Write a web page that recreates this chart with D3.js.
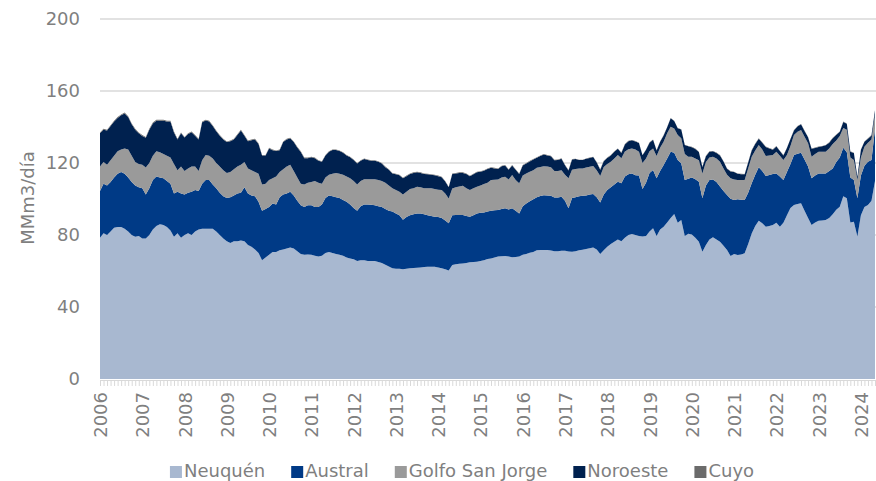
<!DOCTYPE html>
<html>
<head>
<meta charset="utf-8">
<script src="https://cdn.jsdelivr.net/npm/d3@7"></script>
<style>
body{margin:0;background:#fff;}
text{font-family:"DejaVu Sans",Verdana,sans-serif;}
</style>
</head>
<body>
<div id="chart"></div>
<script>
// Monthly production, MMm3/día, Jan 2006 - May 2024 (one row per year)
const neuquen = [
78.5,81,80,82,84,84.5,84.5,83.5,82,80,79,79.5,
78,78,80,83,85,86,85.5,84.5,82.5,79,81,78.5,
80,81,80,82,83,83.5,83.5,83.5,83.5,82,80,78,
76.5,75.5,76.5,76.5,77,76.5,74.5,73.5,72,70,66,67.5,
69,70.5,70.5,71.5,72,72.5,73,72.5,71,69.5,69,69.2,
69,68.5,68,68.5,70,70.5,70,69.5,69,68.5,67.5,67,
66.5,65.5,66,66,65.5,65.5,65.5,65,64.5,63.5,62.5,61.5,
61.3,61.2,61,61.3,61.5,61.7,61.8,62,62.2,62.4,62.4,62.4,
62,61.5,61,60.3,63.3,63.7,64,64.2,64.5,64.8,65,65.2,
65.5,66,66.7,67,67.5,68,68.2,68.3,68,67.6,67.8,68,
69,69.5,70.2,70.5,71.5,71.7,71.7,71.6,71.4,71,71,71.3,
71.2,70.8,70.7,71,71.5,71.8,72.2,72.7,73,72,69.4,71.5,
73.5,75,76.3,77.5,76.5,78.5,80,80.5,80,79.4,79.1,79.4,
82,83.7,79.4,83,84.6,87,89.5,91.7,86.8,88.3,79.4,80.7,
80.3,78.5,76.3,70.7,74.5,77.5,78.7,77.5,76.3,74,71.7,68.3,
69.4,68.9,69.2,69.8,75,80.9,85,87.9,86.5,84.6,85,85.5,
86.8,84.6,86.8,91,95,96.7,97.2,97.6,93.5,89.5,85.5,87,
87.9,88,88.3,89.5,91.5,94,95.7,101.5,100.4,87,87.4,79.1,
91,95.5,96.7,99,110
];

const austral = [
26.0,27.5,27.5,27.5,28.0,29.5,30.5,30.5,30.0,29.5,28.5,27.0,
28.0,24.5,26.0,27.5,27.5,26.0,26.0,25.5,26.0,24.0,23.0,24.5,
22.5,22.5,24.0,23.0,21.5,25.0,27.0,27.0,24.5,24.0,23.5,23.5,
24.0,25.5,25.5,26.5,26.5,30.0,28.5,28.5,29.5,28.5,27.5,27.0,
26.5,27.0,26.5,29.5,30.5,30.5,31.0,29.5,28.0,27.0,26.5,27.3,
27.5,27.0,27.5,28.5,30.5,31.5,31.5,31.5,31.5,31.0,31.0,30.0,
28.5,28.0,30.0,31.0,31.5,31.3,31.0,31.0,31.0,31.0,31.0,31.5,
30.7,29.8,27.5,28.7,29.5,29.8,30.2,30.0,29.3,28.6,28.1,27.8,
28.0,28.0,27.0,26.2,27.7,27.4,27.1,26.9,26.0,25.4,26.0,26.8,
26.8,26.5,26.3,26.5,26.2,25.9,26.3,26.5,26.2,27.2,25.7,24.0,
27.0,28.0,28.5,29.3,29.5,29.9,30.4,30.4,30.4,29.8,29.8,29.9,
27.8,24.0,29.8,30.0,30.0,30.0,29.8,29.8,29.8,29.0,28.6,31.0,
31.5,31.5,31.7,32.1,32.2,34.0,33.8,33.7,33.2,33.6,26.4,29.6,
32.5,32.4,32.1,32.5,34.3,35.5,36.8,34.0,34.9,31.5,31.1,30.6,
31.7,32.5,33.3,29.7,33.0,33.0,32.2,32.0,30.7,30.5,30.5,31.9,
30.0,30.9,30.4,29.6,28.5,27.8,28.5,29.7,29.0,28.2,28.4,28.4,
27.4,27.9,23.7,24.0,24.5,27.7,28.0,28.1,28.5,28.5,26.0,26.0,
26.3,26.2,25.9,26.0,25.5,26.5,27.3,27.0,25.6,25.0,23.1,21.3,
22.0,23.0,24.0,22.7,29.0
];

const golfo = [
13.5,12.0,11.5,12.0,12.0,12.5,12.5,14.0,15.5,14.5,13.0,13.0,
13.0,15.0,14.0,13.5,14.0,14.0,13.5,14.0,14.5,16.5,12.0,15.0,
13.0,13.5,14.0,13.0,11.0,13.0,14.0,13.5,14.5,14.0,14.5,14.5,
14.0,14.0,14.5,15.0,15.5,14.0,14.0,14.0,13.5,15.5,14.5,14.0,
15.0,14.0,15.5,14.0,14.0,15.0,15.0,13.5,13.0,12.0,12.5,12.5,
13.0,14.5,13.5,11.5,11.5,11.5,12.5,13.5,13.5,14.0,14.0,14.5,
15.0,14.5,14.0,14.0,14.0,14.2,14.5,14.5,14.5,14.5,14.0,13.0,
13.0,13.0,14.0,14.0,14.5,14.5,14.8,14.5,14.5,15.0,15.5,15.3,
15.2,15.5,15.0,13.8,14.8,15.4,15.9,16.3,15.5,14.8,15.0,14.8,
15.2,15.8,16.0,17.0,17.0,17.0,17.5,17.6,16.7,18.5,17.0,16.7,
17.0,16.7,16.5,16.2,16.3,16.2,16.1,16.0,15.9,14.8,14.7,14.8,
14.5,16.7,15.8,15.6,15.4,15.2,15.5,15.4,15.5,15.0,14.8,15.3,
14.5,14.2,14.5,14.8,13.9,13.9,13.9,13.9,14.3,13.3,14.5,13.5,
12.0,12.0,12.4,13.0,12.9,14.0,13.9,13.5,13.8,13.9,14.5,12.2,
11.5,11.5,11.9,13.8,13.0,12.5,12.6,13.0,13.7,12.5,11.3,11.3,
11.5,10.7,10.9,11.1,13.5,14.8,13.5,12.4,12.0,11.1,10.8,10.5,
12.1,11.5,11.2,9.5,10.0,11.1,12.1,12.6,12.6,13.0,12.0,12.0,
12.1,12.1,12.1,12.5,13.5,12.0,12.0,11.0,12.5,11.0,11.2,10.1,
10.0,10.5,10.6,11.3,8.0
];

const noroeste = [
18.5,18.0,19.0,19.0,19.0,18.5,19.0,19.5,18.0,17.5,18.0,17.0,
16.0,16.5,18.5,18.0,17.0,17.5,18.5,19.0,20.0,17.5,17.0,18.5,
18.6,19.1,19.1,17.1,17.6,21.1,19.1,19.1,18.1,17.6,17.1,17.1,
17.1,17.1,16.6,17.6,19.1,14.6,15.1,16.6,18.1,16.6,16.1,15.6,
17.6,15.6,14.1,12.1,15.1,15.1,14.6,16.1,16.6,17.6,14.6,13.6,
13.7,12.7,12.2,12.2,12.2,12.7,13.2,12.7,12.7,12.2,11.7,11.7,
11.7,11.7,11.2,11.2,10.7,10.2,10.2,10.2,9.7,8.7,8.7,8.2,
8.7,9.2,9.0,8.7,8.4,8.5,8.1,8.0,7.9,7.7,7.5,7.7,
7.5,7.1,6.7,6.2,8.1,7.7,7.5,7.1,7.9,7.6,7.7,8.1,
7.6,7.4,7.7,6.8,6.3,5.8,6.2,6.2,5.3,5.3,5.7,5.2,
5.6,5.5,5.7,5.9,5.6,6.1,6.5,6.2,6.0,5.9,6.2,6.3,
5.3,4.4,5.7,5.6,4.7,4.6,4.8,4.9,5.0,4.3,3.5,3.2,
3.3,3.5,3.8,3.5,3.0,3.9,4.4,4.5,4.5,4.8,4.3,4.8,
4.8,4.8,3.1,3.3,3.5,3.3,4.6,4.1,3.8,4.9,5.0,5.8,
5.3,5.3,4.6,3.6,3.3,3.3,3.0,3.1,3.5,3.8,3.3,3.8,
4.1,3.5,3.3,3.2,3.3,3.5,3.6,3.5,3.8,5.0,3.9,3.0,
2.9,2.6,2.5,3.8,3.8,2.6,3.0,3.2,3.2,3.3,4.4,3.4,
2.6,3.0,3.5,3.3,3.3,3.1,2.3,3.3,3.3,3.3,3.8,1.7,
4.3,2.8,2.2,2.3,2.2
];

const cuyo = [
0.5,0.5,0.5,0.5,0.5,0.5,0.5,0.5,0.5,0.5,0.5,0.5,
0.5,0.5,0.5,0.5,0.5,0.5,0.5,0.5,0.5,0.5,0.5,0.5,
0.4,0.4,0.4,0.4,0.4,0.4,0.4,0.4,0.4,0.4,0.4,0.4,
0.4,0.4,0.4,0.4,0.4,0.4,0.4,0.4,0.4,0.4,0.4,0.4,
0.4,0.4,0.4,0.4,0.4,0.4,0.4,0.4,0.4,0.4,0.4,0.4,
0.3,0.3,0.3,0.3,0.3,0.3,0.3,0.3,0.3,0.3,0.3,0.3,
0.3,0.3,0.3,0.3,0.3,0.3,0.3,0.3,0.3,0.3,0.3,0.3,
0.3,0.3,0.3,0.3,0.3,0.3,0.3,0.3,0.3,0.3,0.3,0.3,
0.3,0.3,0.3,0.3,0.3,0.3,0.3,0.3,0.3,0.3,0.3,0.3,
0.3,0.3,0.3,0.3,0.3,0.3,0.3,0.3,0.3,0.3,0.3,0.3,
0.3,0.3,0.3,0.3,0.3,0.3,0.3,0.3,0.3,0.3,0.3,0.3,
0.2,0.2,0.2,0.2,0.2,0.2,0.2,0.2,0.2,0.2,0.2,0.2,
0.2,0.2,0.2,0.2,0.2,0.2,0.2,0.2,0.2,0.2,0.2,0.2,
0.2,0.2,0.2,0.2,0.2,0.2,0.2,0.2,0.2,0.2,0.2,0.2,
0.2,0.2,0.2,0.2,0.2,0.2,0.2,0.2,0.2,0.2,0.2,0.2,
0.2,0.2,0.2,0.2,0.2,0.2,0.2,0.2,0.2,0.2,0.2,0.2,
0.2,0.2,0.2,0.2,0.2,0.2,0.2,0.2,0.2,0.2,0.2,0.2,
0.2,0.2,0.2,0.2,0.2,0.2,0.2,0.2,0.2,0.2,0.2,0.2,
0.2,0.2,0.2,0.2,0.2
];

const basins = ["Neuquén", "Austral", "Golfo San Jorge", "Noroeste", "Cuyo"];
const basinValues = [neuquen, austral, golfo, noroeste, cuyo];
const colors = ["#a8b8d0", "#003a86", "#9a9a9a", "#00214f", "#6b6b6b"];
const years = ["2006","2007","2008","2009","2010","2011","2012","2013","2014","2015",
  "2016","2017","2018","2019","2020","2021","2022","2023","2024"];
const yTicks = [0, 40, 80, 120, 160, 200];

const W = 876, H = 481;
const plot = {left:100, right:876, top:19, bottom:379};
const textColor = "#7f7f7f";

// build rows for the stack
const n = neuquen.length;
const rows = d3.range(n).map(i => {
  const r = {i:i};
  basins.forEach((b, k) => r[b] = basinValues[k][i]);
  return r;
});

const svg = d3.select("#chart").append("svg")
  .attr("width", W).attr("height", H);

const x = d3.scaleLinear().domain([0, n - 1]).range([plot.left, 875]);
const y = d3.scaleLinear().domain([0, 200]).range([plot.bottom, plot.top]);

// gridlines
svg.append("g").selectAll("line")
  .data(yTicks.slice(1))
  .enter().append("line")
  .attr("x1", plot.left).attr("x2", plot.right)
  .attr("y1", d => y(d)).attr("y2", d => y(d))
  .attr("stroke", "#d9d9d9").attr("stroke-width", 1.5);

// stacked areas
const stack = d3.stack().keys(basins);
const series = stack(rows);
const area = d3.area()
  .x(d => x(d.data.i))
  .y0(d => y(d[0]))
  .y1(d => y(d[1]));

svg.append("g").selectAll("path")
  .data(series)
  .enter().append("path")
  .attr("d", area)
  .attr("fill", (d, k) => colors[k]);

// monthly tick marks
const monthAxis = svg.append("g")
  .attr("transform", `translate(0,${plot.bottom + 1})`)
  .call(d3.axisBottom(x).tickValues(d3.range(n)).tickSize(6).tickFormat(""));
monthAxis.selectAll("line").attr("stroke", "#d9d9d9");
monthAxis.select(".domain").attr("stroke", "#d9d9d9");

// year labels
const yearAxis = svg.append("g")
  .attr("transform", `translate(0,${plot.bottom + 1})`)
  .call(d3.axisBottom(x)
    .tickValues(years.map((d, k) => k * 12))
    .tickSize(0)
    .tickFormat(i => years[i / 12]));
yearAxis.select(".domain").remove();
yearAxis.selectAll("text")
  .attr("transform", "rotate(-90)")
  .attr("text-anchor", "end")
  .attr("x", -12).attr("y", 0).attr("dy", "0.36em")
  .attr("fill", textColor)
  .style("font-size", "18px");

// y axis labels
const yAxis = svg.append("g")
  .attr("transform", `translate(${plot.left},0)`)
  .call(d3.axisLeft(y).tickValues(yTicks).tickSize(0).tickPadding(20));
yAxis.select(".domain").remove();
yAxis.selectAll("text")
  .attr("fill", textColor)
  .style("font-size", "18px");

// y title
svg.append("text")
  .attr("transform", "translate(28,198) rotate(-90)")
  .attr("text-anchor", "middle")
  .attr("dy", "0.36em")
  .attr("fill", textColor)
  .style("font-size", "18px")
  .text("MMm3/día");

// legend
const legend = svg.append("g");
const gap = 26;
let lx = 0;
basins.forEach((b, k) => {
  const g = legend.append("g").attr("transform", `translate(${lx},0)`);
  g.append("rect").attr("x", 0).attr("y", -11).attr("width", 12).attr("height", 12)
    .attr("fill", colors[k]);
  const t = g.append("text").attr("x", 14).attr("y", 0)
    .attr("fill", textColor).style("font-size", "18px").text(b);
  lx += 14 + t.node().getComputedTextLength() + gap;
});
const legendWidth = lx - gap;
legend.attr("transform", `translate(${462 - legendWidth / 2},477)`);
</script>
</body>
</html>
